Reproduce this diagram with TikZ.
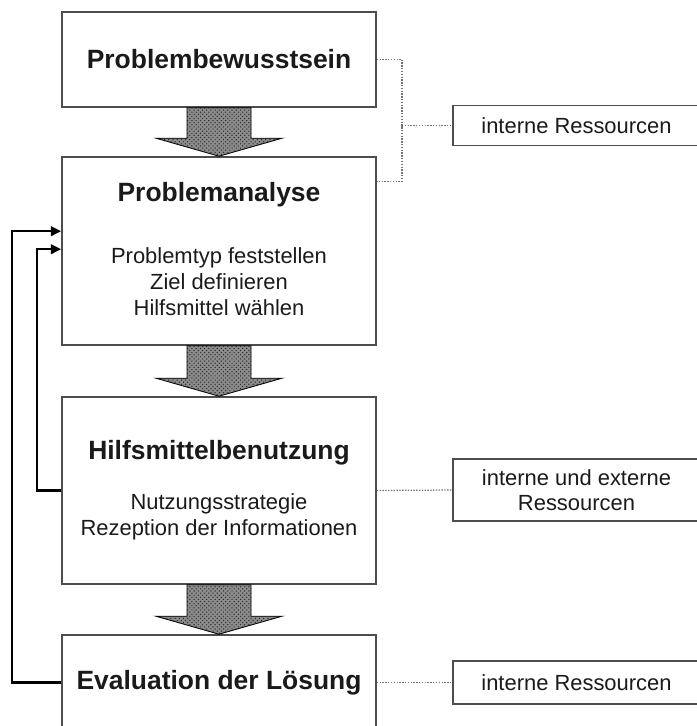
\documentclass[tikz,border=0pt]{standalone}
\usepackage{fontspec}
\setmainfont{Liberation Sans}
\usetikzlibrary{arrows.meta,positioning,calc,patterns}
\definecolor{boxline}{HTML}{4D4D4D}
\definecolor{txtgray}{HTML}{1A1A1A}
\tikzset{
  stage/.style={draw=boxline, line width=1.1pt, minimum width=7.85cm, inner sep=0pt},
  resbox/.style={draw=boxline, line width=1pt, minimum width=6.175cm, inner sep=0pt,
    align=center, font=\fontsize{15.6}{17.7}\selectfont, text=txtgray},
  titletxt/.style={font=\fontsize{18.8}{22}\selectfont\bfseries, text=txtgray},
  subtxt/.style={font=\fontsize{15.6}{18.4}\selectfont, align=center, text=txtgray},
  blockarr/.style={draw=black, line width=0.6pt, fill=black!45,
    postaction={pattern=crosshatch dots, pattern color=black!85}},
  dotline/.style={draw=black!55, line width=0.9pt, dash pattern=on 1pt off 1pt},
  backline/.style={draw=black, line width=1.7pt, -{Triangle[length=2.6mm,width=2.4mm]}},
}
% fat arrow between two stages
\newcommand{\blockarrow}[2]{%
  \path[blockarr] ($(#1.south)+(-32,0)$) -- ($(#2.north)+(-32,-18)$) -- ($(#2.north)+(-63,-18)$)
    -- (#2.north) -- ($(#2.north)+(63,-18)$) -- ($(#2.north)+(32,-18)$) -- ($(#1.south)+(32,0)$) -- cycle;}

\begin{document}
\begin{tikzpicture}[x=0.025cm, y=-0.025cm]
\useasboundingbox (0,0) rectangle (697,726);
\clip (0,0) rectangle (697,726);

% Stages
\node[stage, minimum height=2.375cm, titletxt] (bewusst) at (219,59.5) {Problembewusstsein};
\node[stage, minimum height=4.7cm] (analyse) at (219,251) {};
\node[titletxt] (analyseT) at (219,195) {Problemanalyse};
\node[subtxt] (analyseL) at (219,281.7) {Problemtyp feststellen\\Ziel definieren\\Hilfsmittel wählen};
\node[stage, minimum height=4.675cm] (benutzung) at (219,490.5) {};
\node[titletxt] (benutzungT) at (219,452.7) {Hilfsmittelbenutzung};
\node[subtxt] (benutzungL) at (219,516.7) {Nutzungsstrategie\\Rezeption der Informationen};
\node[stage, minimum height=3.25cm] (eval) at (219,700) {};
\node[titletxt] (evalT) at (219,682.5) {Evaluation der Lösung};

% Resources
\node[resbox, minimum height=1cm] (res1) at (576.5,125.5) {interne Ressourcen};
\node[resbox, minimum height=1.55cm] (res2) at (576.5,490) {interne und externe\\Ressourcen};
\node[resbox, minimum height=1.075cm] (res3) at (576.5,682.5) {interne Ressourcen};

% Flow arrows
\blockarrow{bewusst}{analyse}
\blockarrow{analyse}{benutzung}
\blockarrow{benutzung}{eval}

% Dotted links
\coordinate (joint) at (402,125.5);
\draw[dotline] (bewusst.east) -| (joint) |- ($(analyse.north east)+(0,25)$);
\draw[dotline] (joint) -- (res1.west);
\draw[dotline] (benutzung.east) -- (res2.west);
\draw[dotline] (evalT -| eval.east) -- (res3.west);

% Feedback loops
\draw[backline] (evalT -| eval.west) -- ++(-49,0) |- ($(analyse.north west)+(0,75)$);
\draw[backline] (benutzung.west) -- ++(-24,0) |- ($(analyse.north west)+(0,93)$);
\end{tikzpicture}
\end{document}
